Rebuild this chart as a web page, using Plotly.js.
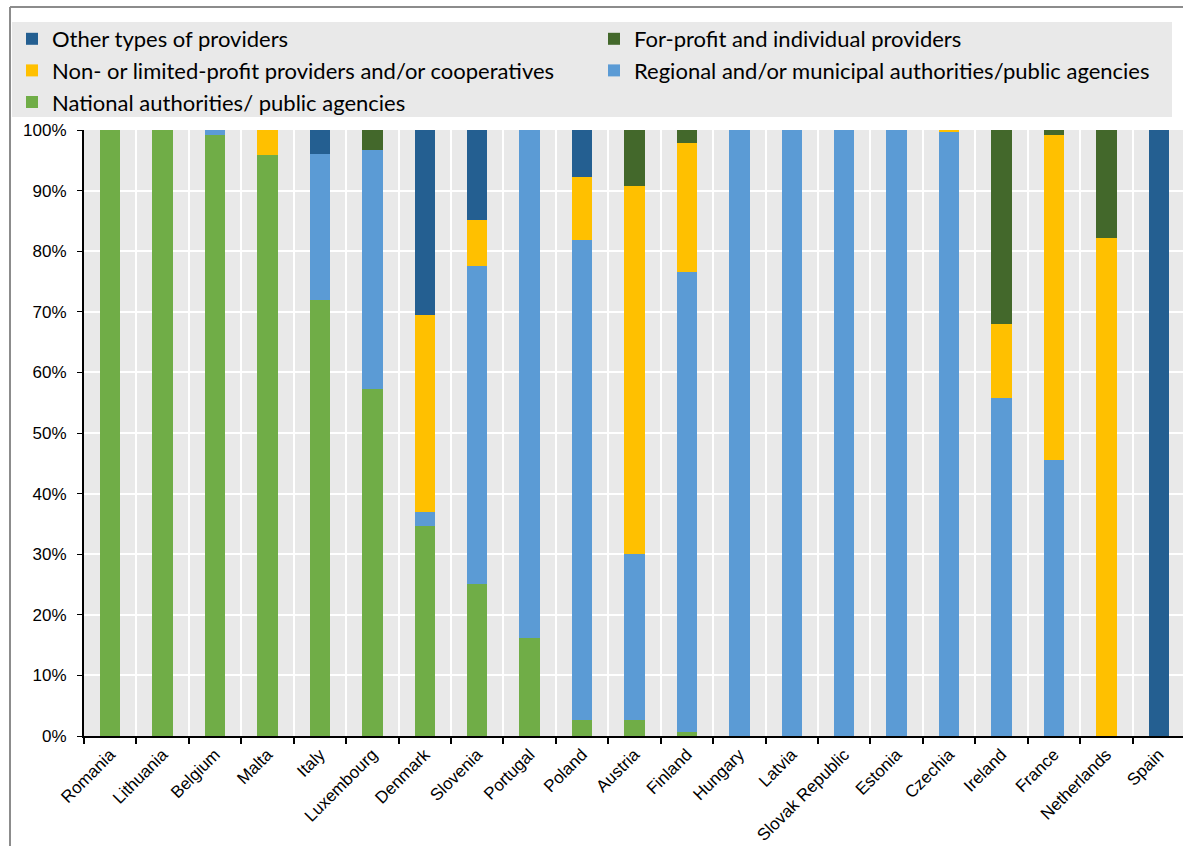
<!DOCTYPE html>
<html>
<head>
<meta charset="utf-8">
<script src="https://cdn.plot.ly/plotly-3.0.1.min.js"></script>
<style>
html,body{margin:0;padding:0;background:#fff;overflow:hidden;}
#chart{width:1185px;height:846px;}
</style>
</head>
<body>
<div id="chart"></div>
<script>
const countries = ["Romania","Lithuania","Belgium","Malta","Italy","Luxembourg","Denmark","Slovenia","Portugal","Poland","Austria","Finland","Hungary","Latvia","Slovak Republic","Estonia","Czechia","Ireland","France","Netherlands","Spain"];
const national   = [100,100,99.1,95.8,71.9,57.2,34.7,25.1,16.2,2.7,2.6,0.6,0,0,0,0,0,0,0,0,0];
const regional   = [0,0,0.9,0,24.1,39.5,2.2,52.4,83.8,79.2,27.4,75.9,100,100,100,100,99.7,55.7,45.6,0,0];
const nonprofit  = [0,0,0,4.2,0,0,32.6,7.6,0,10.4,60.8,21.4,0,0,0,0,0.3,12.3,53.6,82.1,0];
const forprofit  = [0,0,0,0,0,3.3,0,0,0,0,9.2,2.1,0,0,0,0,0,32.0,0.8,17.9,0];
const other      = [0,0,0,0,4.0,0,30.5,14.9,0,7.7,0,0,0,0,0,0,0,0,0,0,100];

const seriesNames = [
  "National authorities/ public agencies",
  "Regional and/or municipal authorities/public agencies",
  "Non- or limited-profit providers and/or cooperatives",
  "For-profit and individual providers",
  "Other types of providers"
];
const seriesValues = [national, regional, nonprofit, forprofit, other];
const seriesColors = ["#70AD47","#5B9BD5","#FFC000","#43682B","#245F91"];
const seriesLegend = ["legend","legend2","legend","legend2","legend"];

const W = 1185, H = 846, ML = 84, MR = 0, MT = 130, MB = 110;
const PW = W - ML - MR, PH = H - MT - MB;
const px = x => (x - ML) / PW;
const py = y => (H - MB - y) / PH;

const traces = seriesValues.map((vals, i) => ({
  type: "bar",
  name: seriesNames[i],
  legend: seriesLegend[i],
  x: countries,
  y: vals.map(v => v / 100),
  marker: {color: seriesColors[i], line: {width: 0}},
  hoverinfo: "x+y+name"
}));

const tickFamily = "Liberation Sans";
const legendFont = {family: "Lato", size: 22, color: "#000"};

const layout = {
  width: W, height: H,
  margin: {l: ML, r: MR, t: MT, b: MB, pad: 0},
  barmode: "stack",
  bargap: 0.61,
  paper_bgcolor: "#ffffff",
  plot_bgcolor: "#E9E9E9",
  font: {family: tickFamily, color: "#000"},
  xaxis: {
    type: "category",
    tickson: "boundaries",
    showgrid: true, gridcolor: "#ffffff", gridwidth: 2,
    showline: true, linecolor: "#000", linewidth: 2,
    ticks: "outside", ticklen: 6, tickcolor: "#000", tickwidth: 2,
    tickangle: -45,
    tickfont: {size: 17, family: tickFamily, color: "#000"},
    automargin: false
  },
  yaxis: {
    range: [0, 1],
    dtick: 0.1,
    tickformat: ".0%",
    showgrid: true, gridcolor: "#ffffff", gridwidth: 2,
    showline: true, linecolor: "#000", linewidth: 2,
    zeroline: false,
    ticks: "outside", ticklen: 5, tickcolor: "#000", tickwidth: 1,
    ticklabelstandoff: 7,
    tickfont: {size: 17, family: tickFamily, color: "#000"},
    automargin: false
  },
  showlegend: true,
  legend: {
    orientation: "v",
    traceorder: "reversed",
    x: px(12), xanchor: "left",
    y: py(18), yanchor: "top",
    bgcolor: "rgba(0,0,0,0)",
    font: legendFont,
    itemwidth: 30
  },
  legend2: {
    orientation: "v",
    traceorder: "reversed",
    x: px(594), xanchor: "left",
    y: py(18), yanchor: "top",
    bgcolor: "rgba(0,0,0,0)",
    font: legendFont,
    itemwidth: 30
  },
  shapes: [
    {type: "rect", xref: "paper", yref: "paper", x0: px(12), x1: px(1172), y0: py(117), y1: py(22),
     fillcolor: "#E9E9E9", line: {width: 0}, layer: "below"},
    {type: "line", xref: "paper", yref: "paper", x0: px(10), x1: px(1185), y0: py(7), y1: py(7),
     line: {color: "#8c8c8c", width: 2}},
    {type: "line", xref: "paper", yref: "paper", x0: px(10), x1: px(10), y0: py(7), y1: py(846),
     line: {color: "#8c8c8c", width: 2}}
  ]
};

Plotly.newPlot("chart", traces, layout, {displayModeBar: false, staticPlot: true});
</script>
</body>
</html>
